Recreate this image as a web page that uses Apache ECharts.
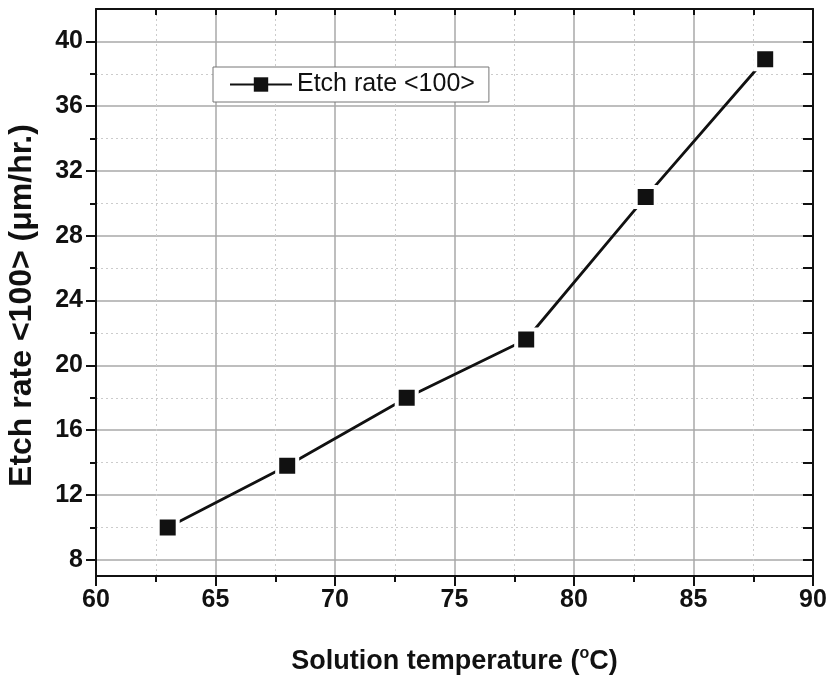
<!DOCTYPE html>
<html>
<head>
<meta charset="utf-8">
<script src="https://cdn.jsdelivr.net/npm/echarts@6/dist/echarts.min.js"></script>
<style>
  html, body { margin: 0; padding: 0; background: #fff; }
  #chart { width: 829px; height: 681px; }
</style>
</head>
<body>
<div id="chart"></div>
<script>
// solution temperature (°C) vs etch rate <100> (µm/hr.)
var temperatures = [63, 68, 73, 78, 83, 88];
var etchRates = [10.0, 13.8, 18.0, 21.6, 30.4, 38.9];
var yMajorTicks = [8, 12, 16, 20, 24, 28, 32, 36, 40];
var yMinorTicks = [10, 14, 18, 22, 26, 30, 34, 38];
var yAllTicks = [8, 10, 12, 14, 16, 18, 20, 22, 24, 26, 28, 30, 32, 34, 36, 38, 40];

var FONT = '"Liberation Sans", Arial, sans-serif';
var chart = echarts.init(document.getElementById('chart'));

var axisLine = { show: true, onZero: false, lineStyle: { color: '#111', width: 2 } };
var tickLabel = { fontFamily: FONT, fontSize: 25, fontWeight: 'bold', color: '#111' };

var option = {
    animation: false,
    grid: { left: 96, right: 16, top: 9, bottom: 105, outerBoundsMode: 'none' },
    legend: {
        left: 213,
        top: 67,
        padding: [5, 14, 5, 16],
        itemWidth: 62,
        itemHeight: 18,
        itemGap: 6,
        borderColor: '#777',
        borderWidth: 1,
        backgroundColor: '#fff',
        itemStyle: { borderWidth: 0 },
        textStyle: { fontFamily: FONT, fontSize: 25, color: '#111' }
    },
    xAxis: [{
        type: 'value',
        position: 'bottom',
        min: 60,
        max: 90,
        interval: 5,
        name: '{t|Solution temperature (}{s|o}{t|C)}',
        nameLocation: 'middle',
        nameGap: 70,
        nameTextStyle: {
            rich: {
                t: { fontFamily: FONT, fontSize: 27, fontWeight: 'bold', color: '#111' },
                s: { fontFamily: FONT, fontSize: 16, fontWeight: 'bold', color: '#111', verticalAlign: 'top', padding: [0, 0, 16, 0] }
            }
        },
        axisLine: axisLine,
        axisTick: { show: true, inside: false, length: 10, lineStyle: { color: '#111', width: 2 } },
        minorTick: { show: true, splitNumber: 2, length: 6, lineStyle: { color: '#111', width: 2 } },
        axisLabel: Object.assign({ margin: 12 }, tickLabel),
        splitLine: { show: true, lineStyle: { color: '#a8a8a8', width: 1.5 } },
        minorSplitLine: { show: true, lineStyle: { color: '#cccccc', width: 1, type: [2, 3] } }
    }, {
        type: 'value',
        position: 'top',
        min: 60,
        max: 90,
        interval: 5,
        axisLine: axisLine,
        axisTick: { show: true, inside: true, length: 6, lineStyle: { color: '#111', width: 2 } },
        minorTick: { show: true, splitNumber: 2, length: 6, lineStyle: { color: '#111', width: 2 } },
        axisLabel: { show: false },
        splitLine: { show: false }
    }],
    yAxis: [{
        type: 'value',
        position: 'left',
        min: 7,
        max: 42,
        name: 'Etch rate <100> (\u03bcm/hr.)',
        nameLocation: 'middle',
        nameGap: 58,
        nameTextStyle: { fontFamily: FONT, fontSize: 32, fontWeight: 'bold', color: '#111', padding: [0, 26, 0, 0] },
        axisLine: axisLine,
        axisTick: { show: true, inside: false, length: 10, customValues: yMajorTicks, lineStyle: { color: '#111', width: 2 } },
        axisLabel: Object.assign({ margin: 13, customValues: yMajorTicks }, tickLabel),
        splitLine: { show: true, lineStyle: { color: '#a8a8a8', width: 1.5 } }
    }, {
        type: 'value',
        position: 'left',
        min: 7,
        max: 42,
        axisLine: { show: false },
        axisTick: { show: true, inside: false, length: 6, customValues: yMinorTicks, lineStyle: { color: '#111', width: 2 } },
        axisLabel: { show: false, customValues: yMinorTicks },
        splitLine: { show: true, lineStyle: { color: '#cccccc', width: 1, type: [2, 3] } }
    }, {
        type: 'value',
        position: 'right',
        min: 7,
        max: 42,
        axisLine: axisLine,
        axisTick: { show: true, inside: true, length: 10, customValues: yAllTicks, lineStyle: { color: '#111', width: 2 } },
        axisLabel: { show: false, customValues: yAllTicks },
        splitLine: { show: false }
    }],
    series: [{
        name: 'Etch rate <100>',
        type: 'line',
        xAxisIndex: 0,
        yAxisIndex: 0,
        data: temperatures.map(function (t, i) { return [t, etchRates[i]]; }),
        symbol: 'rect',
        symbolSize: 20,
        showAllSymbol: true,
        lineStyle: { color: '#111', width: 2.8 },
        itemStyle: { color: '#111', borderColor: '#fff', borderWidth: 4 },
        z: 5
    }]
};

chart.setOption(option);
</script>
</body>
</html>
